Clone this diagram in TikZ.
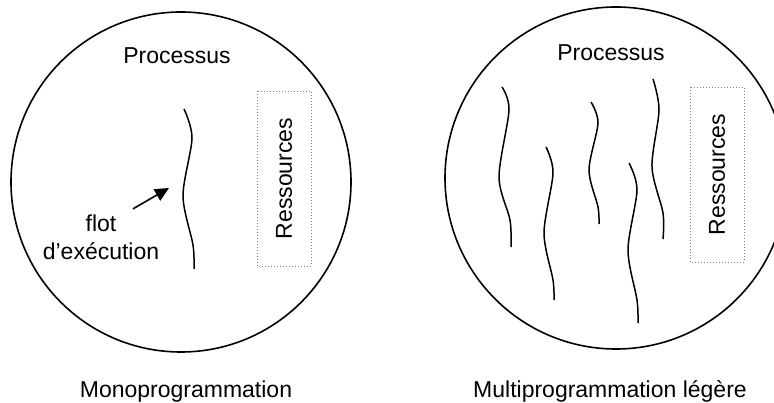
\documentclass[tikz,border=0pt]{standalone}
\usepackage{fontspec}
\setsansfont{Liberation Sans}
\usetikzlibrary{arrows.meta,positioning}
\begin{document}
\begin{tikzpicture}[x=1pt,y=-1pt,font=\sffamily\fontsize{23}{28}\selectfont,proc/.style={circle,draw,line width=1.6pt,minimum size=#1,inner sep=0pt},res/.style={draw=gray,dash pattern=on 0.8pt off 2.2pt,line width=0.8pt,rotate=90,minimum width=175pt,minimum height=54pt,inner sep=0pt},thread/.style={line width=1.5pt},arrow/.style={-{Triangle[length=14pt,width=13pt]},line width=1.6pt},txt/.style={anchor=base,inner sep=0pt}]
\useasboundingbox (0,0) rectangle (774,403);
\node[proc=340pt] (mono) at (181,182) {};
\node[proc=342pt] (multi) at (616,178) {};
\node[txt] (procL) at (177,64) {Processus};
\node[txt] (procR) at (611,61) {Processus};
\node[res] (resL) at (284,178.5) {Ressources};
\node[res] (resR) at (717,174.5) {Ressources};
\node[txt] (capL) at (186,397) {Monoprogrammation};
\node[txt] (capR) at (610,397) {Multiprogrammation légère};
\node[align=center,inner sep=3pt] (flot) at (101,237.5) {flot\\d’exécution};
\coordinate (tip) at (169,188);
\draw[arrow] ([xshift=32pt,yshift=3pt]flot.north) -- (tip);
\draw[thread] plot[smooth] coordinates {(184,109) (192,138) (183,196) (193,245) (194,269)};
\draw[thread] plot[smooth] coordinates {(502,87) (509,110) (499,177) (510,220) (511,247)};
\draw[thread] plot[smooth] coordinates {(546,147) (553,173) (544,233) (553,280) (554,300)};
\draw[thread] plot[smooth] coordinates {(591,102) (598,123) (589,170) (598,207) (599,224)};
\draw[thread] plot[smooth] coordinates {(629,163) (637,190) (628,250) (637,300) (638,323)};
\draw[thread] plot[smooth] coordinates {(653,79) (659,110) (652,167) (663,213) (663,239)};
\end{tikzpicture}
\end{document}
